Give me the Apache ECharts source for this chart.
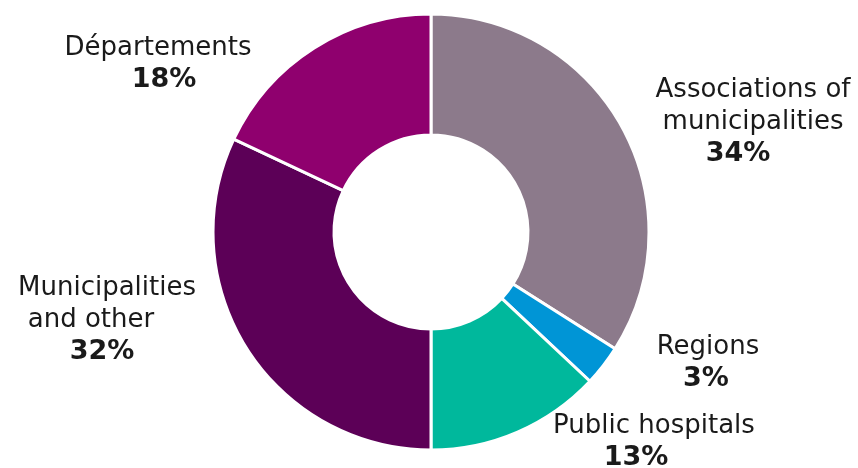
<!DOCTYPE html>
<html>
<head>
<meta charset="utf-8">
<script src="https://cdn.jsdelivr.net/npm/echarts@6/dist/echarts.min.js"></script>
<style>
  html, body { margin: 0; padding: 0; background: #ffffff; }
  #chart { width: 858px; height: 468px; }
</style>
</head>
<body>
<div id="chart"></div>
<script>
// Share of each category (percent), clockwise from the top
const categories = ['Associations of\nmunicipalities', 'Regions', 'Public hospitals', 'Municipalities\nand other', 'Départements'];
const shares = [34, 3, 13, 32, 18];
const colors = ['#8c7a8b', '#0095d6', '#00b89c', '#5c0057', '#8f006e'];

// Label anchor (centre of the text block) for each slice
const labelAnchors = [[753, 122], [708, 363], [654, 442], [107, 320], [158, 64]];
// Horizontal nudges for individual lines: right padding of name lines, and value padding
const namePads = [[0, 0], [0], [0], [0, 32], [0]];
const valuePads = [[0, 30, 0, 0], [0, 4, 0, 0], [0, 36, 0, 0], [0, 10, 0, 0], [0, 0, 0, 12]];

const fontFamily = '"DejaVu Sans", Verdana, sans-serif';

const data = categories.map((name, i) => {
  const lines = name.split('\n');
  const rich = {};
  const parts = lines.map((line, j) => {
    const key = 'n' + j;
    rich[key] = {
      fontSize: 26, fontFamily, color: '#1a1a1a', lineHeight: 32,
      padding: [0, namePads[i][j] || 0, 0, 0]
    };
    return '{' + key + '|' + line + '}';
  });
  rich.v = {
    fontSize: 27, fontWeight: 'bold', fontFamily, color: '#1a1a1a', lineHeight: 32,
    padding: valuePads[i]
  };
  return {
    name,
    value: shares[i],
    itemStyle: { color: colors[i] },
    label: {
      formatter: parts.join('\n') + '\n{v|' + shares[i] + '%}',
      rich
    }
  };
});

const chart = echarts.init(document.getElementById('chart'), null, { renderer: 'canvas' });
chart.setOption({
  animation: false,
  backgroundColor: '#ffffff',
  series: [{
    type: 'pie',
    center: [431, 232],
    radius: [97, 218],
    startAngle: 90,
    clockwise: true,
    data,
    itemStyle: { borderColor: '#ffffff', borderWidth: 3 },
    label: { show: true, position: 'outside', align: 'center', overflow: 'none', width: null },
    labelLine: { show: false },
    labelLayout: function (params) {
      const p = labelAnchors[params.dataIndex];
      return { x: p[0], y: p[1], align: 'center', verticalAlign: 'middle' };
    },
    emphasis: { disabled: true }
  }]
});
</script>
</body>
</html>
